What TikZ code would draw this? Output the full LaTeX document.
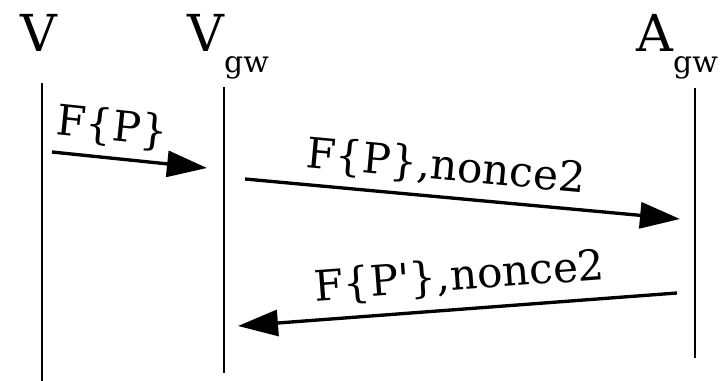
\documentclass[tikz,border=0pt]{standalone}
\usepackage{fontspec}
\setmainfont{DejaVu Serif}
\usetikzlibrary{arrows.meta}
\newcommand{\gw}{\raisebox{-0.42cm}{\fontsize{17}{17}\selectfont gw}}
\tikzset{actor/.style={anchor=base west,inner sep=0pt,font=\fontsize{29}{29}\selectfont},
  life/.style={line width=1.1pt},
  msg/.style={line width=1.9pt,-{Triangle[length=0.8cm,width=0.52cm]}},
  lbl/.style={sloped,above,inner sep=0pt,font=\fontsize{24}{24}\selectfont}}

\begin{document}
\begin{tikzpicture}[x=0.02cm,y=-0.02cm]
    \useasboundingbox (0,0) rectangle (725,381);
    \node[actor] (v) at (20,52) {V};
    \node[actor] (vgw) at (187,52) {V\gw};
    \node[actor] (agw) at (636,52) {A\gw};

    \coordinate (vtop) at (42,83);
     \coordinate (vbot) at (42,381);
    \coordinate (gtop) at (224,87);
     \coordinate (gbot) at (224,373);
    \coordinate (atop) at (695,88);
     \coordinate (abot) at (695,358);
    \draw[life] (vtop)--(vbot);
    \draw[life] (gtop)--(gbot);
    \draw[life] (atop)--(abot);

    \coordinate (m1s) at (52,152);
     \coordinate (m1e) at (207,168);
    \coordinate (m2s) at (245,179);
     \coordinate (m2e) at (680,219);
    \coordinate (m3s) at (677,293);
     \coordinate (m3e) at (238,326);
    \draw[msg] (m1s)--node[lbl,pos=0.37,yshift=5pt] (l1) {F\{P\}} (m1e);
    \draw[msg] (m2s)--node[lbl,pos=0.455,yshift=5pt] (l2) {F\{P\},nonce2} (m2e);
    \draw[msg] (m3s)--node[lbl,pos=0.49,yshift=6pt] (l3) {F\{P\textquotesingle\},nonce2} (m3e);
\end{tikzpicture}
\end{document}
